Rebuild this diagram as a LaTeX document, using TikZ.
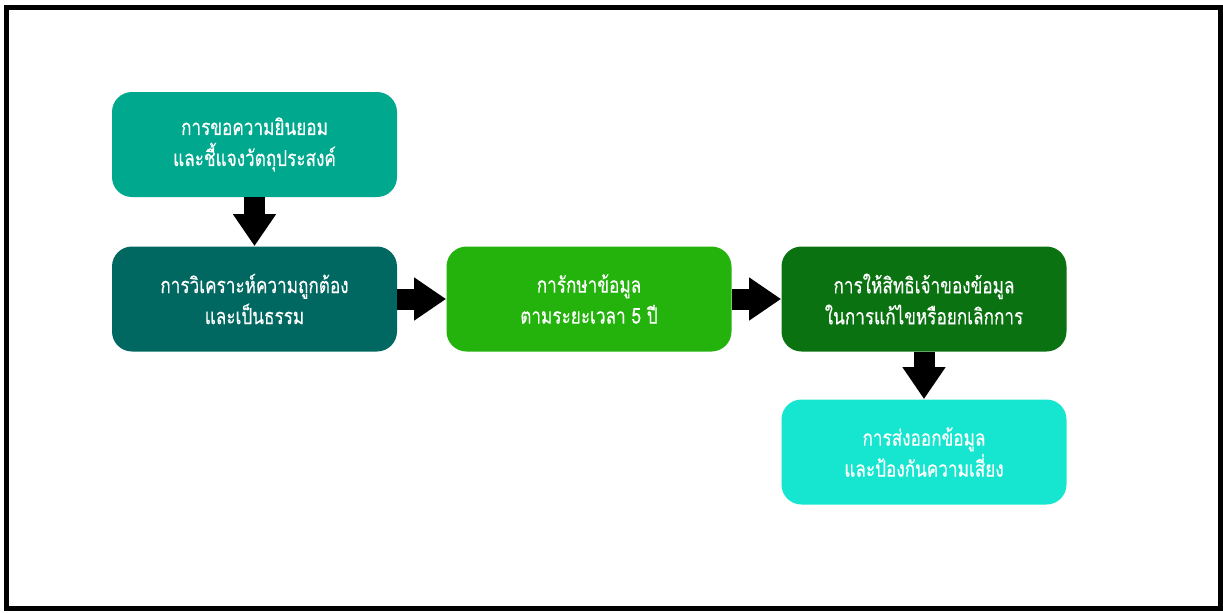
\documentclass[tikz,border=0pt]{standalone}
\usepackage{fontspec}
\newfontfamily\thaifont[Script=Thai,FakeStretch=0.78,FakeBold=0.3]{Loma}
\usepackage{xcolor}
\usetikzlibrary{arrows.meta}

\definecolor{consentgreen}{RGB}{0,168,142}
\definecolor{analysisteal}{RGB}{0,104,96}
\definecolor{keepgreen}{RGB}{36,178,12}
\definecolor{rightsgreen}{RGB}{10,114,17}
\definecolor{exportcyan}{RGB}{22,230,208}

\begin{document}
\begin{tikzpicture}[x=0.5pt,y=-0.5pt,
    every node/.style={rounded corners=10pt,minimum width=142.5pt,minimum height=52.5pt,
      align=center,text=white,font=\thaifont\fontsize{11}{15.5}\selectfont},
    flow/.style={line width=10.5pt,-{Triangle[length=16pt,width=20.5pt]}}]
  	\useasboundingbox (0,0) rectangle (1223,612);
  	\draw[line width=2.5pt] (6.5,7.5) rectangle (1220.5,608.5);

  	\node[fill=consentgreen] (s1) at (254.5,144.5) {การขอความยินยอม\\และชี้แจงวัตถุประสงค์};
  	\node[fill=analysisteal] (s2) at (254.5,299) {การวิเคราะห์ความถูกต้อง\\และเป็นธรรม};
  	\node[fill=keepgreen] (s3) at (589,299) {การักษาข้อมูล\\ตามระยะเวลา 5 ปี};
  	\node[fill=rightsgreen] (s4) at (924,299) {การให้สิทธิเจ้าของข้อมูล\\ในการแก้ไขหรือยกเลิกการ};
  	\node[fill=exportcyan] (s5) at (924,452) {การส่งออกข้อมูล\\และป้องกันความเสี่ยง};

	\draw[flow] (s1) -- (s2);
	\draw[flow] (s2) -- (s3);
	\draw[flow] (s3) -- (s4);
	\draw[flow] (s4) -- (s5);

  	\end{tikzpicture}
\end{document}
